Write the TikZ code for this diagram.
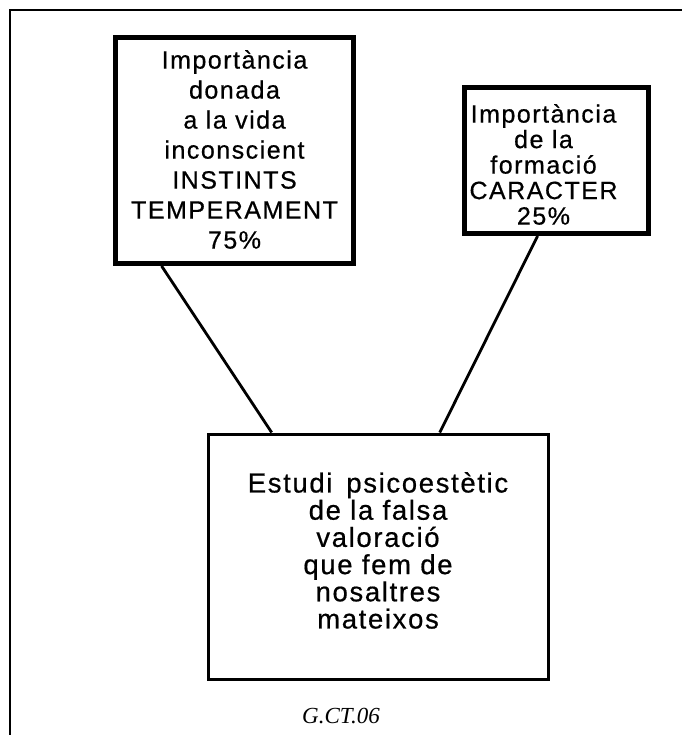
\documentclass[tikz,border=0pt]{standalone}
\usepackage{fontspec}
\setmainfont{Liberation Serif}
\newfontfamily\boxfont[LetterSpace=6,FakeBold=0.6]{Liberation Sans}
\usepackage{tikz}
\usetikzlibrary{calc}

\begin{document}
\begin{tikzpicture}[x=1pt,y=-1pt,
    thickbox/.style={draw,line width=5pt,inner sep=0pt},
    thinbox/.style={draw,line width=3pt,inner sep=0pt},
    boxtext/.style={align=center,inner sep=0pt,
      font=\boxfont\fontsize{25}{30}\selectfont},
    link/.style={line width=2.8pt}]
  \useasboundingbox (0,0) rectangle (682,735);
  % Frame (left and top only)
  \draw[line width=2pt] (10,735) -- (10,10) -- (682,10);
  % Boxes
  \node[thickbox,minimum width=238,minimum height=226] (instinct) at (234.5,150.5) {};
  \node[thickbox,minimum width=184,minimum height=146] (caracter) at (556.5,160.5) {};
  \node[thinbox,minimum width=340,minimum height=245] (estudi) at (378,556.5) {};
  % Texts
  \node[boxtext] (instinct text) at ([yshift=1]instinct.center)
    {Importància\\donada\\a la vida\\inconscient\\INSTINTS\\TEMPERAMENT\\75\%};
  \node[boxtext,font=\boxfont\fontsize{25}{25.5}\selectfont]
    (caracter text) at ([xshift=-13,yshift=-4]caracter.center)
    {Importància\\de la\\formació\\CARACTER\\25\%};
  \node[boxtext,font=\boxfont\fontsize{27.5}{27.2}\selectfont]
    (estudi text) at ([yshift=6]estudi.center)
    {Estudi\, psicoestètic\\de la falsa\\valoració\\que fem de\\nosaltres\\mateixos};
  % Connectors
  \coordinate (a1) at ($(instinct.south west)!0.20!(instinct.south east)$);
  \coordinate (a2) at ($(estudi.north west)!0.19!(estudi.north east)$);
  \coordinate (b1) at ($(caracter.south west)!0.40!(caracter.south east)$);
  \coordinate (b2) at ($(estudi.north west)!0.68!(estudi.north east)$);
  \draw[link] (a1) -- (a2);
  \draw[link] (b1) -- (b2);
  % Caption
  \node[font=\itshape\fontsize{23}{27}\selectfont] (code) at (341,716) {G.CT.06};
\end{tikzpicture}
\end{document}
